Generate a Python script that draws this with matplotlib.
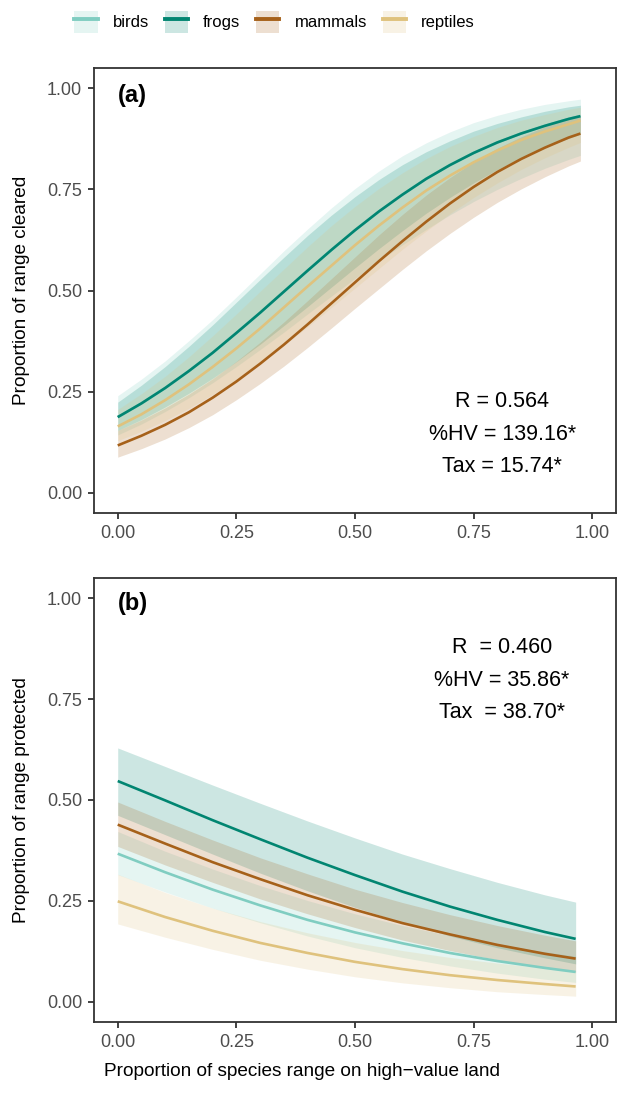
import matplotlib
matplotlib.use("Agg")
import matplotlib.pyplot as plt
from matplotlib.patches import Patch
from matplotlib.lines import Line2D

plt.rcParams['font.family'] = ['Liberation Sans', 'DejaVu Sans']

taxa = ['birds', 'frogs', 'mammals', 'reptiles']
colours = ['#80CDC1', '#018571', '#A6611A', '#DFC27D']

# (a) proportion of range cleared
x_a = [0.0, 0.05, 0.1, 0.15, 0.2, 0.25, 0.3, 0.35, 0.4, 0.45, 0.5,
       0.55, 0.6, 0.65, 0.7, 0.75, 0.8, 0.85, 0.9, 0.95, 0.975]
birds_fit_a = [0.187, 0.221, 0.259, 0.301, 0.346, 0.395, 0.445, 0.497, 0.549, 0.600, 0.649,
               0.695, 0.737, 0.776, 0.810, 0.840, 0.866, 0.888, 0.907, 0.924, 0.931]
birds_lo_a = [0.143, 0.170, 0.201, 0.235, 0.272, 0.312, 0.354, 0.397, 0.442, 0.486, 0.530,
              0.573, 0.613, 0.651, 0.687, 0.720, 0.750, 0.777, 0.802, 0.824, 0.834]
birds_hi_a = [0.240, 0.281, 0.326, 0.376, 0.428, 0.484, 0.541, 0.598, 0.652, 0.704, 0.752,
              0.795, 0.833, 0.865, 0.892, 0.915, 0.933, 0.948, 0.960, 0.969, 0.973]
frogs_fit_a = [0.187, 0.221, 0.259, 0.301, 0.346, 0.395, 0.445, 0.497, 0.549, 0.600, 0.649,
               0.695, 0.737, 0.776, 0.810, 0.840, 0.866, 0.888, 0.907, 0.924, 0.931]
frogs_lo_a = [0.154, 0.181, 0.212, 0.246, 0.283, 0.324, 0.367, 0.413, 0.460, 0.508, 0.556,
              0.603, 0.648, 0.691, 0.730, 0.766, 0.799, 0.828, 0.854, 0.876, 0.886]
frogs_hi_a = [0.224, 0.266, 0.312, 0.362, 0.415, 0.471, 0.527, 0.582, 0.636, 0.686, 0.732,
              0.774, 0.811, 0.843, 0.870, 0.894, 0.913, 0.929, 0.943, 0.954, 0.958]
mammals_fit_a = [0.117, 0.141, 0.168, 0.199, 0.235, 0.275, 0.319, 0.366, 0.416, 0.468, 0.520,
                 0.572, 0.622, 0.670, 0.715, 0.756, 0.793, 0.825, 0.853, 0.878, 0.888]
mammals_lo_a = [0.088, 0.109, 0.133, 0.161, 0.193, 0.230, 0.270, 0.313, 0.359, 0.407, 0.456,
                0.504, 0.552, 0.598, 0.641, 0.681, 0.718, 0.751, 0.781, 0.808, 0.820]
mammals_hi_a = [0.154, 0.180, 0.210, 0.244, 0.282, 0.325, 0.372, 0.422, 0.475, 0.529, 0.583,
                0.637, 0.688, 0.736, 0.779, 0.818, 0.852, 0.880, 0.905, 0.925, 0.933]
reptiles_fit_a = [0.164, 0.194, 0.229, 0.268, 0.311, 0.357, 0.406, 0.458, 0.510, 0.561, 0.612,
                  0.660, 0.705, 0.747, 0.784, 0.817, 0.846, 0.872, 0.893, 0.911, 0.920]
reptiles_lo_a = [0.129, 0.152, 0.179, 0.209, 0.243, 0.280, 0.321, 0.365, 0.410, 0.458, 0.506,
                 0.554, 0.602, 0.647, 0.690, 0.730, 0.766, 0.799, 0.828, 0.854, 0.866]
reptiles_hi_a = [0.206, 0.245, 0.288, 0.336, 0.388, 0.442, 0.498, 0.553, 0.608, 0.660, 0.708,
                 0.752, 0.791, 0.826, 0.856, 0.881, 0.903, 0.921, 0.935, 0.948, 0.953]

# (b) proportion of range protected
x_b = [0.0, 0.1, 0.2, 0.3, 0.4, 0.5, 0.6, 0.7, 0.8, 0.9, 0.965]
birds_fit_b = [0.367, 0.321, 0.278, 0.239, 0.203, 0.172, 0.145, 0.121, 0.101, 0.084, 0.074]
birds_lo_b = [0.315, 0.272, 0.232, 0.196, 0.163, 0.134, 0.110, 0.089, 0.071, 0.056, 0.048]
birds_hi_b = [0.422, 0.373, 0.329, 0.288, 0.251, 0.218, 0.189, 0.164, 0.143, 0.124, 0.113]
frogs_fit_b = [0.547, 0.499, 0.450, 0.403, 0.357, 0.314, 0.273, 0.236, 0.203, 0.173, 0.156]
frogs_lo_b = [0.462, 0.414, 0.366, 0.319, 0.275, 0.234, 0.197, 0.163, 0.134, 0.109, 0.094]
frogs_hi_b = [0.629, 0.583, 0.537, 0.492, 0.448, 0.406, 0.366, 0.330, 0.296, 0.265, 0.247]
mammals_fit_b = [0.439, 0.392, 0.346, 0.304, 0.264, 0.228, 0.195, 0.167, 0.141, 0.119, 0.107]
mammals_lo_b = [0.385, 0.339, 0.296, 0.255, 0.218, 0.184, 0.153, 0.127, 0.104, 0.085, 0.074]
mammals_hi_b = [0.495, 0.447, 0.401, 0.357, 0.317, 0.279, 0.246, 0.216, 0.189, 0.165, 0.151]
reptiles_fit_b = [0.249, 0.210, 0.176, 0.146, 0.121, 0.099, 0.081, 0.066, 0.054, 0.044, 0.038]
reptiles_lo_b = [0.193, 0.160, 0.130, 0.103, 0.081, 0.062, 0.047, 0.035, 0.025, 0.018, 0.014]
reptiles_hi_b = [0.316, 0.271, 0.232, 0.199, 0.171, 0.147, 0.127, 0.110, 0.096, 0.084, 0.077]

fits_a = [birds_fit_a, frogs_fit_a, mammals_fit_a, reptiles_fit_a]
los_a = [birds_lo_a, frogs_lo_a, mammals_lo_a, reptiles_lo_a]
his_a = [birds_hi_a, frogs_hi_a, mammals_hi_a, reptiles_hi_a]
fits_b = [birds_fit_b, frogs_fit_b, mammals_fit_b, reptiles_fit_b]
los_b = [birds_lo_b, frogs_lo_b, mammals_lo_b, reptiles_lo_b]
his_b = [birds_hi_b, frogs_hi_b, mammals_hi_b, reptiles_hi_b]

ticks = [0.0, 0.25, 0.5, 0.75, 1.0]
tick_labels = ['0.00', '0.25', '0.50', '0.75', '1.00']

stats_a = ['R = 0.564', '%HV = 139.16*', 'Tax = 15.74*']
stats_b = ['R  = 0.460', '%HV = 35.86*', 'Tax  = 38.70*']

fig = plt.figure(figsize=(6.18, 11.04), dpi=100)
ax_a = fig.add_axes([94 / 618, 1 - 513 / 1104, 522 / 618, 445 / 1104])
ax_b = fig.add_axes([94 / 618, 1 - 1022 / 1104, 522 / 618, 444 / 1104])


def draw_panel(ax, x, fits, los, his, label, stats, stat_y):
    # ribbons first, then all the lines on top
    for lo, hi, c in zip(los, his, colours):
        ax.fill_between(x, lo, hi, color=c, alpha=0.2, linewidth=0)
    for fit, c in zip(fits, colours):
        ax.plot(x, fit, color=c, lw=1.9, solid_capstyle='butt')
    ax.set_xlim(-0.05, 1.05)
    ax.set_ylim(-0.05, 1.05)
    ax.set_xticks(ticks)
    ax.set_xticklabels(tick_labels)
    ax.set_yticks(ticks)
    ax.set_yticklabels(tick_labels)
    ax.tick_params(length=4.5, width=1.3, color='#333333', labelcolor='#4D4D4D',
                   labelsize=13, pad=4)
    for sp in ax.spines.values():
        sp.set_color('#333333')
        sp.set_linewidth(1.3)
    ax.text(0.0, label[1], label[0], fontsize=17, fontweight='bold',
            ha='left', va='center')
    for s, yy in zip(stats, stat_y):
        ax.text(0.81, yy, s, fontsize=15.5, ha='center', va='center')


draw_panel(ax_a, x_a, fits_a, los_a, his_a, ('(a)', 0.981), stats_a,
           [0.225, 0.145, 0.066])
draw_panel(ax_b, x_b, fits_b, los_b, his_b, ('(b)', 0.988), stats_b,
           [0.878, 0.797, 0.717])

fig.text(22 / 618, 1 - 290.5 / 1104, 'Proportion of range cleared',
         rotation=90, ha='center', va='center', fontsize=13.7)
fig.text(22 / 618, 1 - 800 / 1104, 'Proportion of range protected',
         rotation=90, ha='center', va='center', fontsize=13.7)
fig.text(302 / 618, 1 - 1072 / 1104,
         'Proportion of species range on high\u2212value land',
         ha='center', va='center', fontsize=13.7)

handles = [(Patch(facecolor=c, alpha=0.2, linewidth=0),
            Line2D([], [], color=c, lw=2.8)) for c in colours]
fig.legend(handles, taxa, loc='center', bbox_to_anchor=(274.5 / 618, 1 - 22 / 1104),
           ncol=4, frameon=False, fontsize=12, handlelength=1.4,
           handleheight=1.7, handletextpad=0.9, columnspacing=0.95,
           borderpad=0, borderaxespad=0)

fig.savefig('out.png', dpi=100)
